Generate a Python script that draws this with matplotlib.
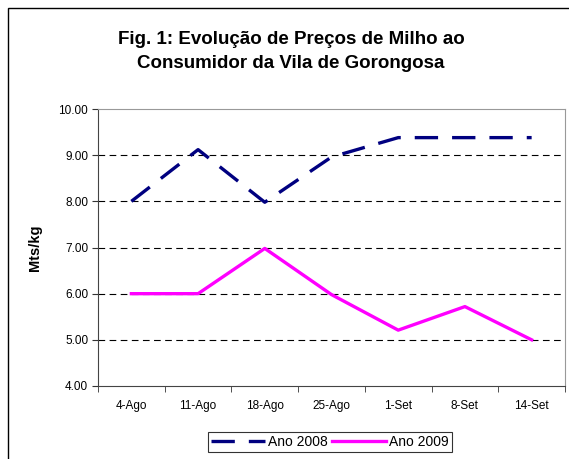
import matplotlib
matplotlib.use("Agg")
import matplotlib.pyplot as plt
from matplotlib.patches import Rectangle
import numpy as np

plt.rcParams['font.family'] = ['Liberation Sans', 'DejaVu Sans']

semanas = ['4-Ago', '11-Ago', '18-Ago', '25-Ago', '1-Set', '8-Set', '14-Set']
ano_2008 = [8.00, 9.12, 7.98, 8.96, 9.38, 9.38, 9.38]
ano_2009 = [6.00, 6.00, 6.98, 5.98, 5.21, 5.72, 5.00]

fig = plt.figure(figsize=(5.69, 4.59), dpi=100)
ax = fig.add_axes([98/569, 1 - 386/459, 467/569, 277/459])

# moldura exterior (cortada a direita e em baixo)
fig.patches.append(Rectangle((8/569, -0.05), 1.2, 1 - 8/459 + 0.05,
                             transform=fig.transFigure, fill=False,
                             edgecolor='black', linewidth=1.0))

x = np.arange(len(semanas))
ax.plot(x, ano_2008, color='#000080', linewidth=2.4, dashes=(7.0, 4.2),
        label='Ano 2008')
ax.plot(x, ano_2009, color='#FF00FF', linewidth=2.4, label='Ano 2009')

ax.set_xlim(-0.5, len(semanas) - 0.5)
ax.set_ylim(4, 10)
ax.set_yticks(np.arange(4, 10.01, 1))
ax.set_yticklabels(['%.2f' % v for v in np.arange(4, 10.01, 1)], fontsize=8.5)
ax.set_xticks(x)
ax.set_xticklabels(semanas, fontsize=8.5)
ax.set_xticks(np.arange(-0.5, len(semanas)), minor=True)
ax.tick_params(axis='x', which='major', length=0, pad=10)
ax.tick_params(axis='x', which='minor', length=4, direction='out', color='#333333')
ax.tick_params(axis='y', length=4, direction='out', color='#333333', pad=3)

for v in range(5, 10):
    ax.axhline(v, color='black', linewidth=0.8, dashes=(6, 4), zorder=0)

for s in ['top', 'right']:
    ax.spines[s].set_color('#999999')
for s in ['left', 'bottom']:
    ax.spines[s].set_color('#444444')

ax.set_ylabel('Mts/kg', fontsize=10.5, fontweight='bold', labelpad=12)

fig.text(291/569, 1 - 39/459, 'Fig. 1: Evolução de Preços de Milho ao',
         ha='center', va='center', fontsize=13.5, fontweight='bold')
fig.text(291/569, 1 - 63/459, 'Consumidor da Vila de Gorongosa',
         ha='center', va='center', fontsize=13.5, fontweight='bold')

leg = fig.legend(loc='center', bbox_to_anchor=(330/569, 1 - 442/459), ncol=2,
                 fontsize=10, frameon=True, fancybox=False, edgecolor='black',
                 handlelength=3.9, columnspacing=0.3, handletextpad=0.2,
                 borderpad=0.25)
leg.get_frame().set_linewidth(0.8)

fig.savefig('out.png', dpi=100)
